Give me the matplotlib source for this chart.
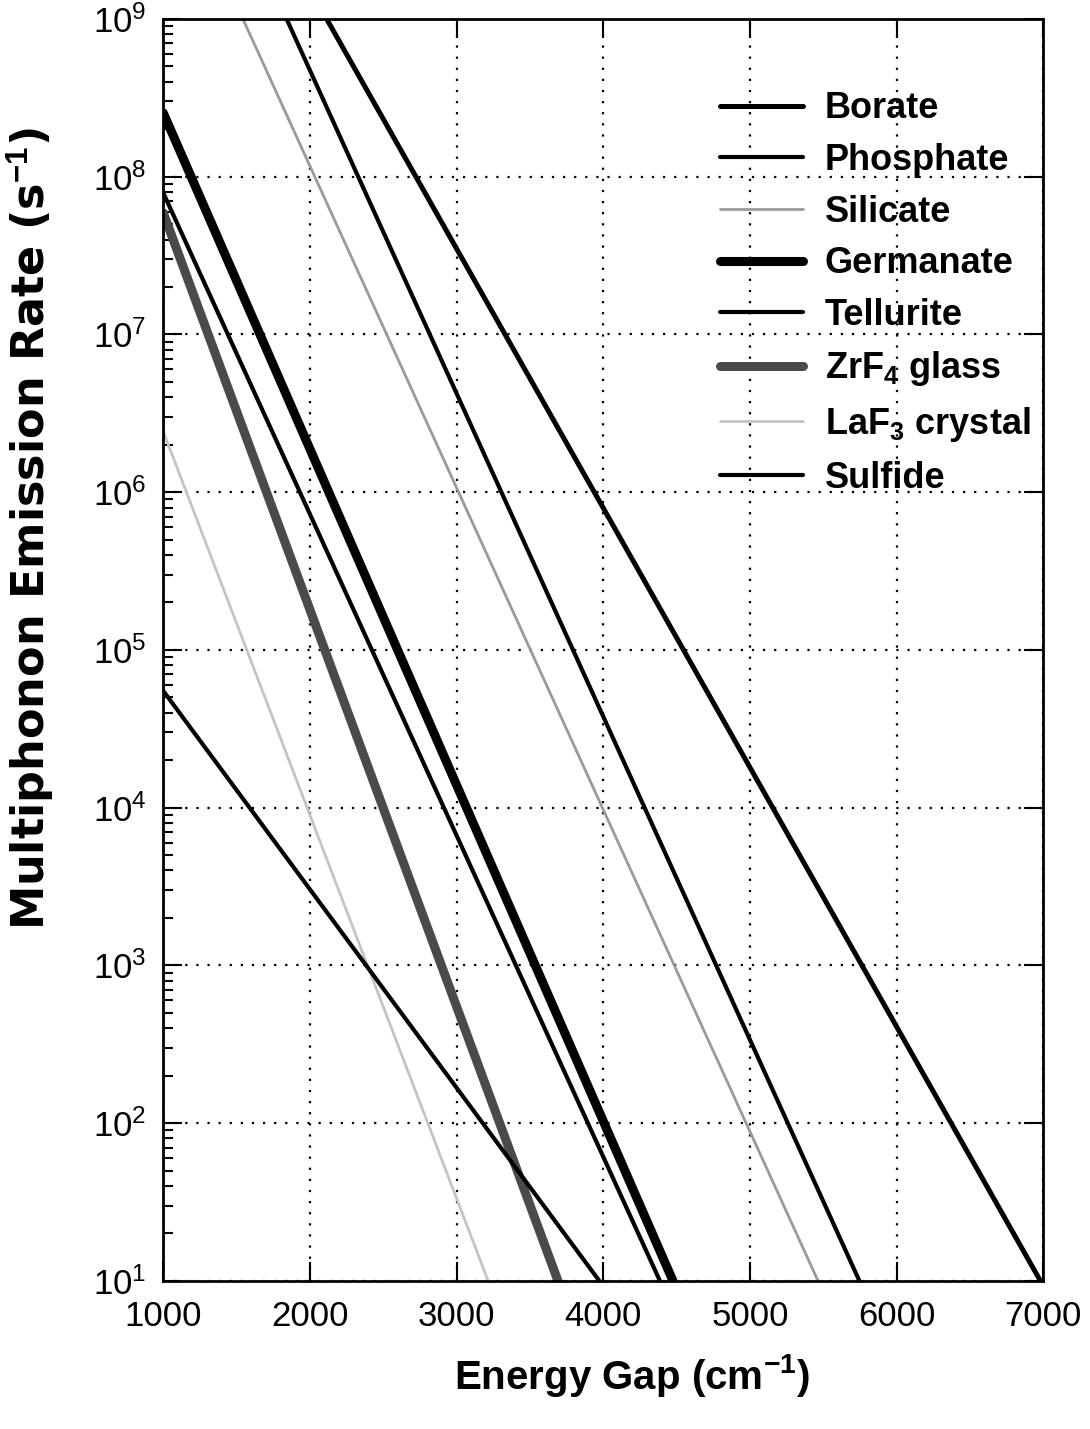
import matplotlib
matplotlib.use("Agg")
import matplotlib.pyplot as plt
from matplotlib.ticker import LogLocator, FixedLocator, NullFormatter

plt.rcParams['font.family'] = ['Liberation Sans', 'DejaVu Sans']
plt.rcParams['mathtext.fontset'] = 'custom'
plt.rcParams['mathtext.rm'] = 'Liberation Sans'
plt.rcParams['mathtext.bf'] = 'Liberation Sans:bold'
plt.rcParams['mathtext.it'] = 'Liberation Sans:italic'

# Data: each glass is a straight line in log space; endpoints
labels = ['Borate', 'Phosphate', 'Silicate', 'Germanate', 'Tellurite',
          'ZrF$_\\mathbf{4}$ glass', 'LaF$_\\mathbf{3}$ crystal', 'Sulfide']
borate_x = [2114, 6980]
borate_y = [1e9, 10]
phosphate_x = [1841, 5746]
phosphate_y = [1e9, 10]
silicate_x = [1543, 5464]
silicate_y = [1e9, 10]
germanate_x = [1000, 4475]
germanate_y = [2.54e8, 10]
tellurite_x = [1000, 4386]
tellurite_y = [7.9e7, 10]
zrf4_x = [1000, 3691]
zrf4_y = [5.9e7, 10]
laf3_x = [1000, 3215]
laf3_y = [2.42e6, 10]
sulfide_x = [1000, 3973]
sulfide_y = [5.5e4, 10]

series_x = [borate_x, phosphate_x, silicate_x, germanate_x, tellurite_x, zrf4_x, laf3_x, sulfide_x]
series_y = [borate_y, phosphate_y, silicate_y, germanate_y, tellurite_y, zrf4_y, laf3_y, sulfide_y]
colors = ['black', 'black', '#9a9a9a', 'black', 'black', '#4a4a4a', '#c4c4c4', 'black']
widths = [3.6, 3.0, 2.0, 6.5, 3.0, 6.5, 2.0, 3.0]

x_ticks = [1000, 2000, 3000, 4000, 5000, 6000, 7000]

fig = plt.figure(figsize=(10.9, 14.29), dpi=100)
ax = fig.add_axes([0.1498, 0.1036, 0.9572 - 0.1498, 0.9867 - 0.1036])

for xs, ys, c, w, lab in zip(series_x, series_y, colors, widths, labels):
    ax.plot(xs, ys, color=c, lw=w, label=lab, solid_capstyle='round')

ax.set_yscale('log')
ax.set_xlim(1000, 7000)
ax.set_ylim(10, 1e9)
ax.xaxis.set_major_locator(FixedLocator(x_ticks))
ax.yaxis.set_major_locator(LogLocator(base=10, numticks=20))
ax.yaxis.set_minor_locator(LogLocator(base=10, subs=range(2, 10), numticks=20))
ax.yaxis.set_minor_formatter(NullFormatter())

ax.grid(True, which='major', color='black', linestyle=(0, (1, 4)), linewidth=1.6)

ax.tick_params(axis='both', which='major', direction='in', length=14, width=1.5,
               labelsize=25, top=True, right=True)
ax.tick_params(axis='x', which='major', pad=14)
ax.tick_params(axis='y', which='major', pad=12)
ax.tick_params(axis='y', which='minor', direction='in', length=7, width=1.5,
               left=True, right=False)
for s in ax.spines.values():
    s.set_linewidth(2.0)

ax.set_xlabel('Energy Gap (cm$^{\\mathbf{-1}}$)', fontsize=29, fontweight='bold')
ax.xaxis.set_label_coords(0.533, -0.056)
ax.set_ylabel('Multiphonon Emission Rate (s$^{\\mathbf{-1}}$)', fontsize=32,
              fontweight='bold', family=['DejaVu Sans'])
ax.yaxis.set_label_coords(-0.121, 0.596)

leg = ax.legend(loc='upper left', bbox_to_anchor=(0.612, 0.957), frameon=False,
                prop={'weight': 'bold', 'size': 26}, handlelength=2.3,
                handletextpad=0.6, labelspacing=0.46, borderpad=0)

fig.savefig('out.png', dpi=100)
